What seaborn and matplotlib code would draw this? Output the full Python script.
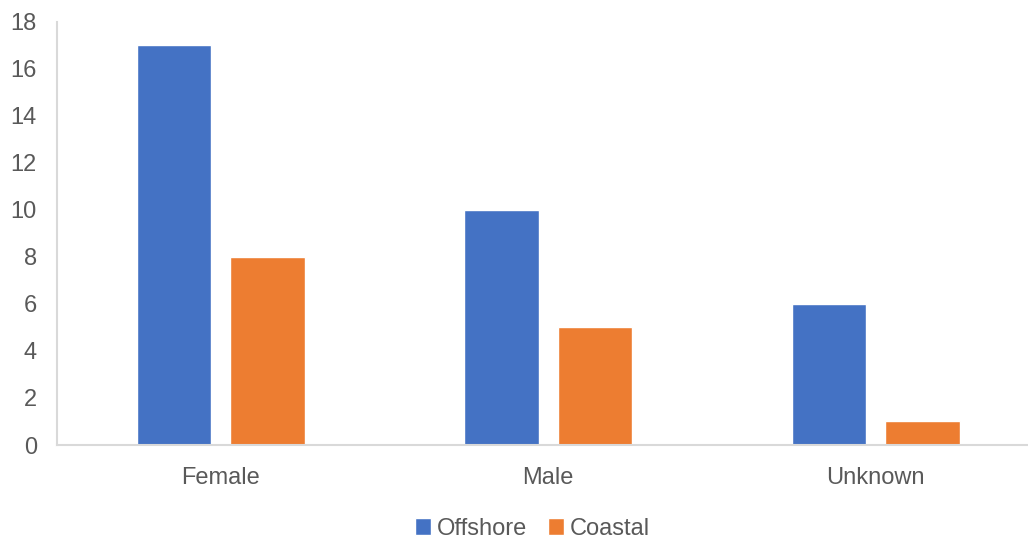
import matplotlib
matplotlib.use("Agg")
import matplotlib.pyplot as plt
import seaborn as sns
import pandas as pd
from matplotlib.patches import Patch

categories = ["Female", "Male", "Unknown"]
offshore = [17, 10, 6]
coastal = [8, 5, 1]
series_names = ["Offshore", "Coastal"]
colors = ["#4472C4", "#ED7D31"]

df = pd.DataFrame({
    "category": categories * 2,
    "value": offshore + coastal,
    "series": [series_names[0]] * 3 + [series_names[1]] * 3,
})

sns.set_theme(style="white")
plt.rcParams["font.family"] = ["Liberation Sans", "DejaVu Sans"]

fig = plt.figure(figsize=(10.28, 5.4), dpi=100)
ax = fig.add_axes([57 / 1028, 1 - 445 / 540, (1039.5 - 57) / 1028, (445 - 21.5) / 540])

sns.barplot(data=df, x="category", y="value", hue="series", palette=colors,
            width=0.571, gap=0.208, ax=ax, legend=False, saturation=1)

ax.set_xlim(-0.5, 2.5)
ax.set_ylim(0, 18)
ax.set_yticks(range(0, 19, 2))
ax.set_xlabel("")
ax.set_ylabel("")
ax.tick_params(axis="both", length=0, labelsize=17, colors="#595959")
ax.tick_params(axis="x", pad=16)
ax.tick_params(axis="y", pad=14.5)
for s in ["top", "right"]:
    ax.spines[s].set_visible(False)
for s in ["left", "bottom"]:
    ax.spines[s].set_color("#D9D9D9")
    ax.spines[s].set_linewidth(1.5)

handles = [Patch(facecolor=c, label=n) for c, n in zip(colors, series_names)]
fig.legend(handles=handles, loc="center", bbox_to_anchor=(0.518, 1 - 529 / 540),
           ncol=2, frameon=False, fontsize=17, handlelength=0.7, handleheight=0.7,
           handletextpad=0.25, columnspacing=0.85, labelcolor="#595959")

fig.savefig("out.png", dpi=100)
